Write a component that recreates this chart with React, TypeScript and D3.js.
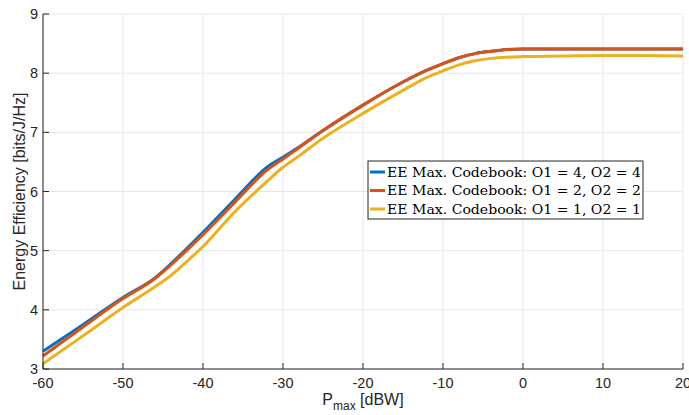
import React from 'react';
import * as d3 from 'd3';

// P_max [dBW] sample points
const pBlue = [-60, -55, -50, -46, -44, -42, -40, -36, -32, -30, -28, -25, -20, -15, -12, -10, -8, -6, -4, -2, 0, 10, 20];
const eeBlue = [3.30, 3.75, 4.21, 4.54, 4.78, 5.04, 5.31, 5.87, 6.41, 6.58, 6.75, 7.03, 7.46, 7.85, 8.05, 8.16, 8.26, 8.33, 8.37, 8.40, 8.41, 8.41, 8.41];

const pOrange = [-60, -55, -50, -46, -44, -42, -40, -36, -32, -30, -28, -25, -20, -15, -12, -10, -8, -6, -4, -2, 0, 10, 20];
const eeOrange = [3.22, 3.71, 4.19, 4.53, 4.76, 5.01, 5.27, 5.82, 6.36, 6.55, 6.74, 7.03, 7.46, 7.85, 8.05, 8.16, 8.26, 8.33, 8.37, 8.40, 8.41, 8.41, 8.41];

const pYellow = [-60, -55, -50, -46, -44, -42, -40, -36, -32, -30, -28, -25, -20, -15, -12, -10, -8, -6, -4, -2, 0, 5, 10, 15, 20];
const eeYellow = [3.09, 3.56, 4.04, 4.39, 4.58, 4.82, 5.07, 5.66, 6.17, 6.41, 6.60, 6.90, 7.32, 7.71, 7.93, 8.04, 8.14, 8.21, 8.25, 8.27, 8.28, 8.29, 8.30, 8.30, 8.29];

const seriesNames = [
  'EE Max. Codebook: O1 = 4, O2 = 4',
  'EE Max. Codebook: O1 = 2, O2 = 2',
  'EE Max. Codebook: O1 = 1, O2 = 1',
];
const xTicks = [-60, -50, -40, -30, -20, -10, 0, 10, 20];
const yTicks = [3, 4, 5, 6, 7, 8, 9];

const colors = ['#0072BD', '#D95319', '#EDB120'];

const App = () => {
  const W = 689;
  const H = 415;
  const margin = { left: 43, right: 6, top: 14, bottom: 46 };

  const x = d3.scaleLinear().domain([-60, 20]).range([margin.left, W - margin.right]);
  const y = d3.scaleLinear().domain([3, 9]).range([H - margin.bottom, margin.top]);

  const series = [
    { p: pBlue, v: eeBlue },
    { p: pOrange, v: eeOrange },
    { p: pYellow, v: eeYellow },
  ];

  const line = d3.line<[number, number]>()
    .x(d => x(d[0]))
    .y(d => y(d[1]))
    .curve(d3.curveMonotoneX);

  const axisColor = '#262626';
  const gridColor = '#e6e6e6';
  const x0 = x(-60);
  const x1 = x(20);
  const yb = y(3);
  const yt = y(9);

  const legX = 368;
  const legY = 161;
  const legW = 275;
  const legH = 58;
  const rowY = [172, 190.5, 209];

  return (
    <div style={{ position: 'absolute', left: 0, top: 0 }}>
      <svg width={W} height={H} style={{ display: 'block', background: '#fff' }}>
        {/* grid */}
        {xTicks.map(t => (
          <line key={'gx' + t} x1={x(t)} x2={x(t)} y1={yt} y2={yb} stroke={gridColor} strokeWidth={1} />
        ))}
        {yTicks.map(t => (
          <line key={'gy' + t} x1={x0} x2={x1} y1={y(t)} y2={y(t)} stroke={gridColor} strokeWidth={1} />
        ))}

        {/* series */}
        {series.map((s, i) => (
          <path
            key={'s' + i}
            d={line(s.p.map((p, j) => [p, s.v[j]] as [number, number])) || ''}
            fill="none"
            stroke={colors[i]}
            strokeWidth={3}
            strokeLinejoin="round"
          />
        ))}

        {/* axes */}
        <line x1={x0} x2={x1} y1={yb} y2={yb} stroke={axisColor} strokeWidth={1} />
        <line x1={x0} x2={x0} y1={yt} y2={yb} stroke={axisColor} strokeWidth={1} />
        {xTicks.map(t => (
          <g key={'xt' + t}>
            <line x1={x(t)} x2={x(t)} y1={yb} y2={yb - 6} stroke={axisColor} strokeWidth={1} />
            <text x={x(t)} y={yb + 19} textAnchor="middle" fontFamily="Liberation Sans, Arial, sans-serif" fontSize={14.5} fill={axisColor}>
              {t}
            </text>
          </g>
        ))}
        {yTicks.map(t => (
          <g key={'yt' + t}>
            <line x1={x0} x2={x0 + 6} y1={y(t)} y2={y(t)} stroke={axisColor} strokeWidth={1} />
            <text x={x0 - 5} y={y(t) + 5} textAnchor="end" fontFamily="Liberation Sans, Arial, sans-serif" fontSize={14.5} fill={axisColor}>
              {t}
            </text>
          </g>
        ))}

        {/* axis labels */}
        <text x={363} y={405} textAnchor="middle" fontFamily="Liberation Sans, Arial, sans-serif" fontSize={16} fill={axisColor}>
          P<tspan fontSize={12} dy={5}>max</tspan><tspan dy={-5}> [dBW]</tspan>
        </text>
        <text
          transform={`translate(25, ${(yt + yb) / 2}) rotate(-90)`}
          textAnchor="middle"
          fontFamily="Liberation Sans, Arial, sans-serif"
          fontSize={16}
          fill={axisColor}
        >
          Energy Efficiency [bits/J/Hz]
        </text>

        {/* legend */}
        <rect x={legX} y={legY} width={legW} height={legH} fill="#fff" stroke="#262626" strokeWidth={1} />
        {seriesNames.map((n, i) => (
          <g key={'l' + i}>
            <line x1={legX + 2} x2={legX + 17} y1={rowY[i]} y2={rowY[i]} stroke={colors[i]} strokeWidth={3} />
            <text
              x={legX + 19}
              y={rowY[i] + 4.5}
              fontFamily="DejaVu Serif, Liberation Serif, serif"
              fontSize={13}
              fill="#000"
              textLength={254}
              lengthAdjust="spacingAndGlyphs"
            >
              {n}
            </text>
          </g>
        ))}
      </svg>
    </div>
  );
};

export default App;
